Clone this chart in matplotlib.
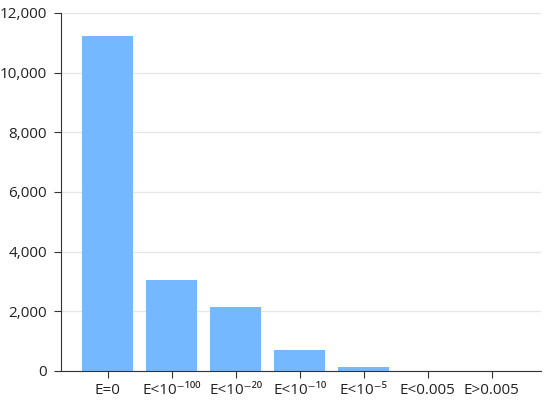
import matplotlib
matplotlib.use("Agg")
import matplotlib.pyplot as plt
from matplotlib.ticker import FuncFormatter

# categories and counts
categories = ["E=0", "E<10⁻¹⁰⁰", "E<10⁻²⁰", "E<10⁻¹⁰", "E<10⁻⁵", "E<0.005", "E>0.005"]
counts = [11230, 3050, 2150, 690, 150, 0, 0]

plt.rcParams["font.family"] = ["Open Sans", "DejaVu Sans"]

fig = plt.figure(figsize=(5.5, 4.05), dpi=100)
ax = fig.add_axes([0.111, 0.084, 0.8726, 0.884])

ax.bar(range(len(categories)), counts, width=0.8, color="#74b9ff", zorder=2)

ax.set_xlim(-0.73, len(categories) - 0.23)
ax.set_ylim(0, 12000)
ax.set_yticks(range(0, 12001, 2000))
ax.yaxis.set_major_formatter(FuncFormatter(lambda v, p: f"{int(v):,}"))
ax.set_xticks(range(len(categories)))
ax.set_xticklabels(categories)

ax.grid(axis="y", color="#e6e6e6", linewidth=1, zorder=0)
for s in ["top", "right"]:
    ax.spines[s].set_visible(False)
for s in ["left", "bottom"]:
    ax.spines[s].set_color("#333333")
ax.tick_params(axis="both", colors="#333333", labelcolor="#222222",
               length=5, direction="out")
ax.tick_params(axis="y", labelsize=11, pad=5)
ax.tick_params(axis="x", labelsize=11, pad=4)

fig.savefig("out.png", dpi=100)
